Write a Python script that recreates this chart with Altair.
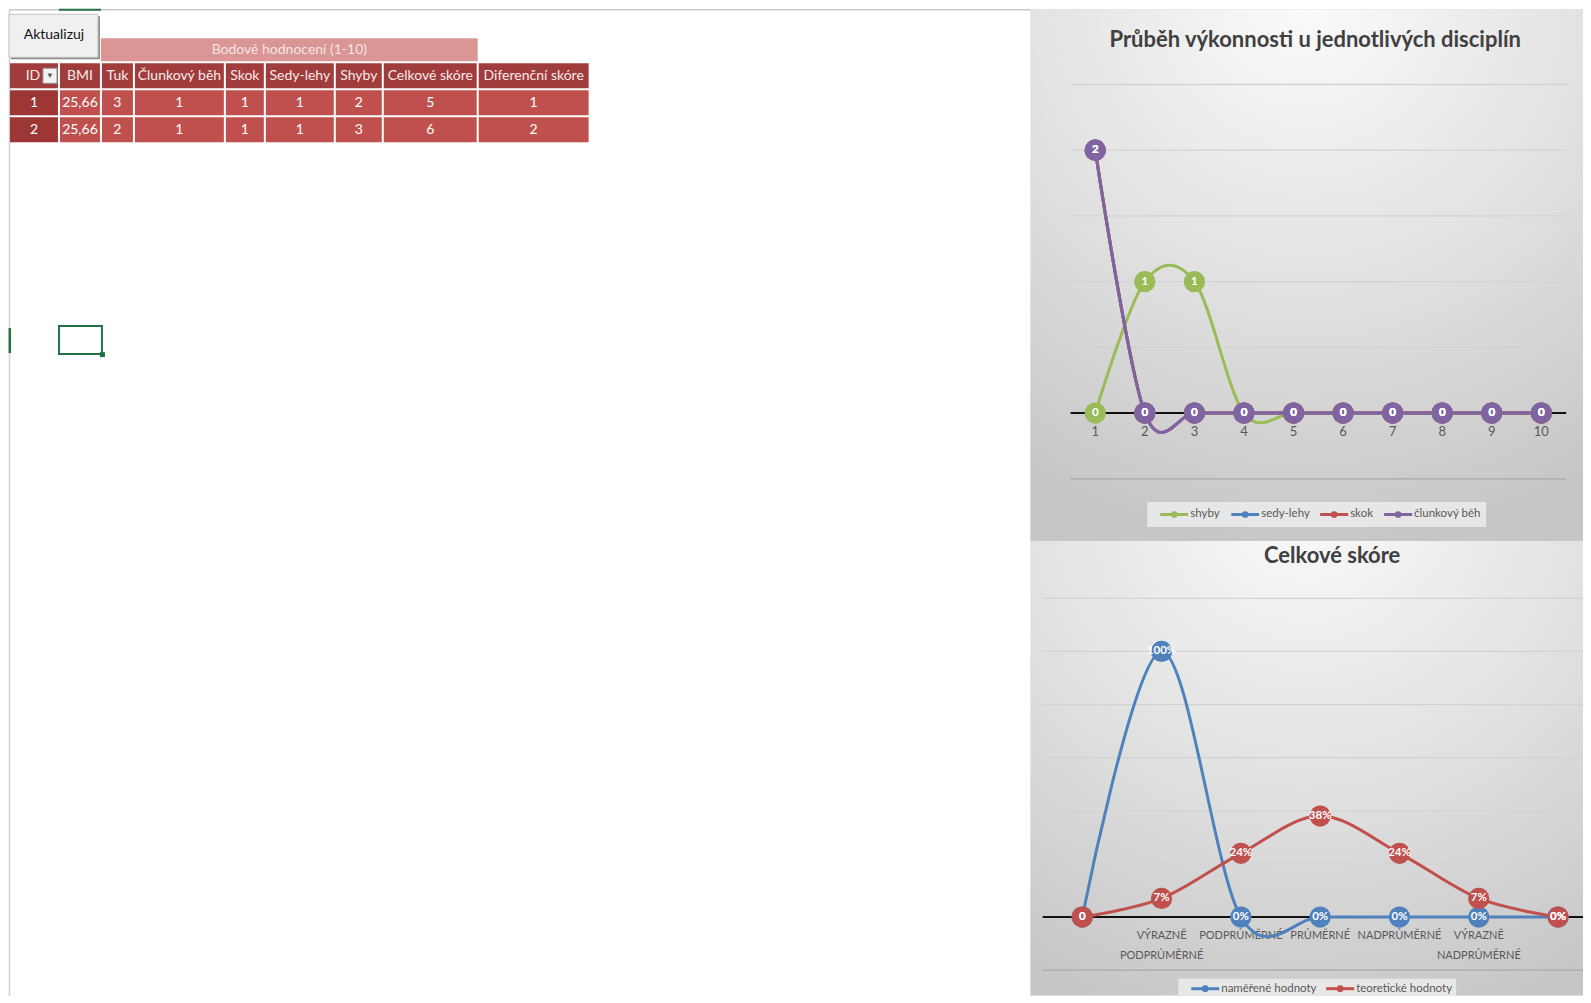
import altair as alt
import pandas as pd

# ---------------- data ----------------
button_label = "Aktualizuj"
table_group_title = "Bodové hodnocení (1-10)"
table_headers = ["ID", "BMI", "Tuk", "Člunkový běh", "Skok", "Sedy-lehy", "Shyby",
                 "Celkové skóre", "Diferenční skóre"]
row_id = ["1", "2"]
row_bmi = ["25,66", "25,66"]
row_tuk = ["3", "2"]
row_clunkovy = ["1", "1"]
row_skok = ["1", "1"]
row_sedy = ["1", "1"]
row_shyby = ["2", "3"]
row_celkove = ["5", "6"]
row_diferencni = ["1", "2"]

perf_title = "Průběh výkonnosti u jednotlivých disciplín"
perf_categories = [1, 2, 3, 4, 5, 6, 7, 8, 9, 10]
perf_series = ["shyby", "sedy-lehy", "skok", "člunkový běh"]
shyby = [0, 1, 1, 0, 0, 0, 0, 0, 0, 0]
sedy_lehy = [2, 0, 0, 0, 0, 0, 0, 0, 0, 0]
skok = [2, 0, 0, 0, 0, 0, 0, 0, 0, 0]
clunkovy_beh = [2, 0, 0, 0, 0, 0, 0, 0, 0, 0]
perf_grid = [-0.5, 0, 0.5, 1, 1.5, 2, 2.5]

score_title = "Celkové skóre"
score_categories = ["", "VÝRAZNĚ\nPODPRŮMĚRNÉ", "PODPRŮMĚRNÉ", "PRŮMĚRNÉ",
                    "NADPRŮMĚRNÉ", "VÝRAZNĚ\nNADPRŮMĚRNÉ", ""]
score_series = ["naměřené hodnoty", "teoretické hodnoty"]
namerene = [0, 1.00, 0, 0, 0, 0, 0]
teoreticke = [0, 0.07, 0.24, 0.38, 0.24, 0.07, 0]
namerene_labels = ["0", "100%", "0%", "0%", "0%", "0%", "0%"]
teoreticke_labels = ["0", "7%", "24%", "38%", "24%", "7%", "0%"]
score_grid = [-0.2, 0, 0.2, 0.4, 0.6, 0.8, 1.0, 1.2]

# ---------------- styles / layout ----------------
FONT = "Lato"
perf_colors = ["#9BBB59", "#4F81BD", "#C0504D", "#8064A2"]
score_colors = ["#4F81BD", "#C0504D"]

LEFT_W, PANEL_H = 1022, 987
RIGHT_W, TOP_H, BOT_H = 553, 532, 455

col_edges = [0, 50, 92, 125, 216, 256, 326, 374, 469, 581]
group_band = (29, 52)
header_band = (54, 79)
row_bands = [(81, 106), (108, 133)]

gradient = alt.RadialGradient(
    gradient="radial", x1=0.5, y1=0.0, r1=0.0, x2=0.5, y2=0.0, r2=1.0,
    stops=[alt.GradientStop(offset=0, color="#fbfbfb"),
           alt.GradientStop(offset=0.55, color="#e0e0e0"),
           alt.GradientStop(offset=1, color="#c6c6c6")])

# ---------------- left panel (sheet + table) ----------------
lx = alt.Scale(domain=[0, LEFT_W], nice=False, zero=False)
ly = alt.Scale(domain=[0, PANEL_H], nice=False, zero=False, reverse=True)


def pos4():
    return dict(x=alt.X("x:Q", scale=lx, axis=None), x2="x2:Q",
                y=alt.Y("y:Q", scale=ly, axis=None), y2="y2:Q")


rects, texts = [], []
rects.append(dict(x=col_edges[2], x2=col_edges[8], y=group_band[0], y2=group_band[1], f="#d99694"))
texts.append(dict(x=(col_edges[2] + col_edges[8]) / 2, y=sum(group_band) / 2,
                  t=table_group_title, c="#f6e4e3"))
for j, h in enumerate(table_headers):
    rects.append(dict(x=col_edges[j] + 1, x2=col_edges[j + 1] - 1,
                      y=header_band[0], y2=header_band[1], f="#a03c3b"))
    cx = (col_edges[j] + col_edges[j + 1]) / 2 if j > 0 else 24
    texts.append(dict(x=cx, y=sum(header_band) / 2, t=h, c="#fbeaea"))
columns = [row_id, row_bmi, row_tuk, row_clunkovy, row_skok, row_sedy, row_shyby,
           row_celkove, row_diferencni]
for r, band in enumerate(row_bands):
    for j, col in enumerate(columns):
        rects.append(dict(x=col_edges[j] + 1, x2=col_edges[j + 1] - 1, y=band[0], y2=band[1],
                          f="#9c3735" if j == 0 else "#c0504d"))
        texts.append(dict(x=(col_edges[j] + col_edges[j + 1]) / 2, y=sum(band) / 2,
                          t=col[r], c="#ffffff"))
btn = pd.DataFrame([dict(x=2, x2=91, y=7, y2=50, f="#8c8c8c"),
                    dict(x=0, x2=89, y=5, y2=48, f="#f0f0f0")])
btn_text = pd.DataFrame([dict(x=45, y=26, t=button_label)])

rect_df = pd.DataFrame(rects)
text_df = pd.DataFrame(texts)

lines_df = pd.DataFrame([
    dict(x=0, x2=LEFT_W, y=0.5, y2=0.5, c="#c8c8c8", w=1.5),
    dict(x=50, x2=92, y=0.5, y2=0.5, c="#217346", w=2),
    dict(x=0.5, x2=0.5, y=0, y2=PANEL_H, c="#d0d0d0", w=1.5),
    dict(x=0.8, x2=0.8, y=319, y2=344, c="#217346", w=2.5),
])
sel_df = pd.DataFrame([dict(x=50, x2=93, y=317, y2=345)])
handle_df = pd.DataFrame([dict(x=91, x2=96, y=343, y2=348)])
dd_df = pd.DataFrame([dict(x=34, x2=48, y=59, y2=74)])
dd_tri = pd.DataFrame([dict(x=41, y=66.5)])

left = alt.layer(
    alt.Chart(lines_df).mark_rule().encode(
        **pos4(), color=alt.Color("c:N", scale=None),
        strokeWidth=alt.StrokeWidth("w:Q", scale=None)),
    alt.Chart(btn).mark_rect().encode(**pos4(), fill=alt.Fill("f:N", scale=None)),
    alt.Chart(btn.iloc[[1]]).mark_rect(fillOpacity=0, stroke="#c4c4c4", strokeWidth=1).encode(**pos4()),
    alt.Chart(btn_text).mark_text(font=FONT, fontSize=14, color="#111111", baseline="middle").encode(
        x=alt.X("x:Q", scale=lx, axis=None), y=alt.Y("y:Q", scale=ly, axis=None), text="t:N"),
    alt.Chart(rect_df).mark_rect().encode(**pos4(), fill=alt.Fill("f:N", scale=None)),
    alt.Chart(dd_df).mark_rect(fill="#f4f4f4", stroke="#9a9a9a", strokeWidth=1).encode(**pos4()),
    alt.Chart(dd_tri).mark_point(shape="triangle-down", filled=True, size=26, color="#606060", opacity=1).encode(
        x=alt.X("x:Q", scale=lx, axis=None), y=alt.Y("y:Q", scale=ly, axis=None)),
    alt.Chart(text_df).mark_text(font=FONT, fontSize=14, baseline="middle").encode(
        x=alt.X("x:Q", scale=lx, axis=None), y=alt.Y("y:Q", scale=ly, axis=None),
        text="t:N", color=alt.Color("c:N", scale=None)),
    alt.Chart(sel_df).mark_rect(fillOpacity=0, stroke="#217346", strokeWidth=2).encode(**pos4()),
    alt.Chart(handle_df).mark_rect(fill="#217346").encode(**pos4()),
).properties(width=LEFT_W, height=PANEL_H)


# ---------------- right panels ----------------
def legend_layers(series, colors, label_widths, start_x, yc, box_y):
    """Excel-style legend: line + dot symbol followed by the label."""
    rows, x = [], start_x
    for s, c, w in zip(series, colors, label_widths):
        rows.append(dict(series=s, c=c, sx=x, sx2=x + 28, sm=x + 14, lx=x + 30))
        x = x + 30 + w + 13
    box = (start_x - 13, x - 5)
    d = pd.DataFrame(rows)
    box_df = pd.DataFrame({"k": [0]})
    return [
        alt.Chart(box_df).mark_rect(fill="#e7e7e7").encode(
            x=alt.value(box[0]), x2=alt.value(box[1]), y=alt.value(box_y[0]), y2=alt.value(box_y[1])),
        alt.Chart(d).mark_rule(strokeWidth=3).encode(
            x=alt.X("sx:Q", scale=None), x2="sx2:Q", y=alt.value(yc),
            color=alt.Color("c:N", scale=None)),
        alt.Chart(d).mark_circle(size=45, opacity=1).encode(
            x=alt.X("sm:Q", scale=None), y=alt.value(yc), color=alt.Color("c:N", scale=None)),
        alt.Chart(d).mark_text(font=FONT, fontSize=11.5, color="#595959", align="left",
                               baseline="middle").encode(
            x=alt.X("lx:Q", scale=None), y=alt.value(yc), text="series:N"),
    ]


def line_panel(title, title_xy, cats, cat_labels, series, colors, values, labels,
               grid, xdom, ydom, width, height, grid_x, label_dy, label_baseline,
               font_lab, legend):
    xs = alt.Scale(domain=xdom, nice=False, zero=False)
    ys = alt.Scale(domain=ydom, nice=False, zero=False)
    one = pd.DataFrame({"t": [title]})
    bg = alt.Chart(one).mark_rect(fill=gradient).encode(
        x=alt.value(0), x2=alt.value(width), y=alt.value(0), y2=alt.value(height))
    gdf = pd.DataFrame({"g": grid})
    gdf["c"] = ["#111111" if g == 0 else ("#a8a8a8" if g == min(grid) else "#d3d3d3") for g in grid]
    gdf["w"] = [2.0 if g == 0 else 1.3 for g in grid]
    grid_layer = alt.Chart(gdf).mark_rule(clip=True).encode(
        x=alt.X(datum=grid_x[0], scale=xs, axis=None), x2=alt.datum(grid_x[1]),
        y=alt.Y("g:Q", scale=ys, axis=None),
        color=alt.Color("c:N", scale=None), strokeWidth=alt.StrokeWidth("w:Q", scale=None))
    xvals = list(range(len(cats))) if isinstance(cats[0], str) else list(cats)
    ldf = pd.DataFrame({"cat": xvals, "lab": cat_labels})
    lab_layer = alt.Chart(ldf).mark_text(
        font=FONT, fontSize=font_lab, color="#595959", baseline=label_baseline, dy=label_dy,
        lineBreak="\n", lineHeight=20).encode(
        x=alt.X("cat:Q", scale=xs, axis=None), y=alt.Y(datum=0, scale=ys, axis=None), text="lab:N")
    sdfs = [pd.DataFrame({"cat": xvals, "value": vals, "series": s, "lab": labs})
            for s, vals, labs in zip(series, values, labels)]
    all_pts = pd.concat(sdfs, ignore_index=True)
    line_layers = [alt.Chart(d).mark_line(interpolate="cardinal", strokeWidth=3).encode(
        x=alt.X("cat:Q", scale=xs, axis=None), y=alt.Y("value:Q", scale=ys, axis=None),
        stroke=alt.Stroke("series:N", scale=alt.Scale(domain=series, range=colors), legend=None))
        for d in sdfs]
    dot_layer = alt.Chart(all_pts).mark_circle(size=450, opacity=1).encode(
        x=alt.X("cat:Q", scale=xs, axis=None), y=alt.Y("value:Q", scale=ys, axis=None),
        fill=alt.Fill("series:N", scale=alt.Scale(domain=series, range=colors), legend=None))
    txt_layer = alt.Chart(all_pts).mark_text(
        font=FONT, fontSize=11.5, fontWeight="bold", color="#ffffff", baseline="middle").encode(
        x=alt.X("cat:Q", scale=xs, axis=None), y=alt.Y("value:Q", scale=ys, axis=None), text="lab:N")
    title_layer = alt.Chart(one).mark_text(
        font=FONT, fontSize=22, fontWeight="bold", color="#404040", baseline="middle").encode(
        x=alt.value(title_xy[0]), y=alt.value(title_xy[1]), text="t:N")
    return alt.layer(bg, grid_layer, lab_layer, *line_layers, dot_layer, txt_layer,
                     title_layer, *legend).properties(width=width, height=height)


top = line_panel(
    perf_title, (285, 31), perf_categories, [str(c) for c in perf_categories],
    perf_series, perf_colors, [shyby, sedy_lehy, skok, clunkovy_beh],
    [[str(v) for v in s] for s in [shyby, sedy_lehy, skok, clunkovy_beh]],
    perf_grid, [-0.3105, 10.84], [-0.973, 3.072], RIGHT_W, TOP_H, (0.5, 10.5),
    19, "middle", 13,
    legend_layers(perf_series, perf_colors, [28, 46, 21, 64], 130, 505.5, (493, 518)))

bottom = line_panel(
    score_title, (302, 15), score_categories, score_categories,
    score_series, score_colors, [namerene, teoreticke], [namerene_labels, teoreticke_labels],
    score_grid, [-0.655, 6.314], [-0.296, 1.4157], RIGHT_W, BOT_H, (-0.5, 6.314),
    13, "top", 11,
    legend_layers(score_series, score_colors, [92, 92], 161, 448, (438, 455)))

right = alt.vconcat(top, bottom, spacing=0, bounds="flush").resolve_scale(
    fill="independent", stroke="independent")

chart = alt.hconcat(left, right, spacing=0, bounds="flush").resolve_scale(
    fill="independent", stroke="independent").properties(
    padding=0, background="#ffffff").configure_view(strokeWidth=0)

chart.save("out.html", embed_options={"renderer": "svg", "actions": False})
